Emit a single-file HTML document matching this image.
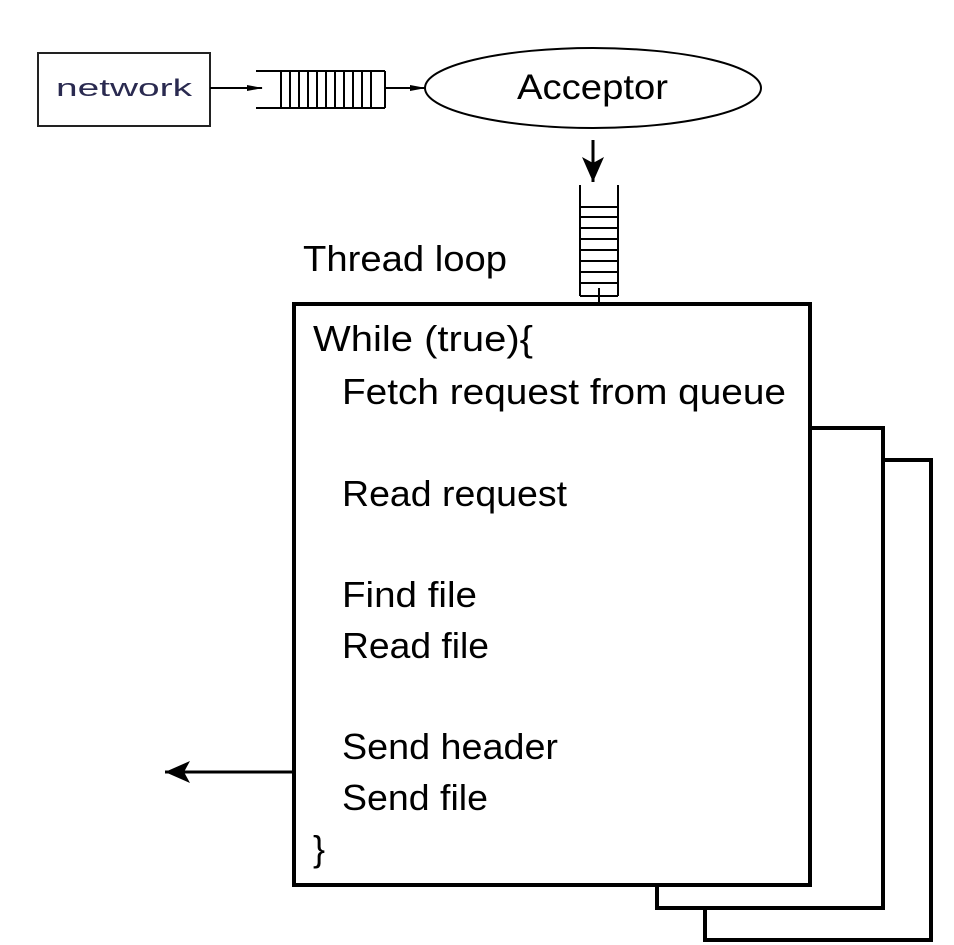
<!DOCTYPE html>
<html><head><meta charset="utf-8"><style>body{margin:0;background:#fff}svg{display:block}</style></head>
<body>
<svg width="954" height="945" viewBox="0 0 954 945" xmlns="http://www.w3.org/2000/svg" font-family="Liberation Sans, sans-serif">
<defs>
<marker id="a" markerWidth="16" markerHeight="8" refX="15" refY="4" orient="auto" markerUnits="userSpaceOnUse"><path d="M0,1 L16,4 L0,7 Z" fill="#000"/></marker>
<marker id="b" markerWidth="26" markerHeight="22" refX="25" refY="11" orient="auto" markerUnits="userSpaceOnUse"><path d="M0,0 L25,11 L0,22 L6,11 Z" fill="#000"/></marker>
</defs>
<rect x="38" y="53" width="172" height="73" fill="none" stroke="#222" stroke-width="2"/>
<text x="56" y="96" font-size="24" fill="#2a2a50" textLength="136" lengthAdjust="spacingAndGlyphs">network</text>
<line x1="210" y1="88" x2="262" y2="88" stroke="#000" stroke-width="2" marker-end="url(#a)"/>
<g stroke="#000" stroke-width="2" fill="none">
<line x1="256" y1="71" x2="385" y2="71"/><line x1="256" y1="108" x2="385" y2="108"/>
<line x1="281" y1="71" x2="281" y2="108"/><line x1="290" y1="71" x2="290" y2="108"/><line x1="299" y1="71" x2="299" y2="108"/><line x1="308" y1="71" x2="308" y2="108"/><line x1="317" y1="71" x2="317" y2="108"/><line x1="326" y1="71" x2="326" y2="108"/><line x1="335" y1="71" x2="335" y2="108"/><line x1="344" y1="71" x2="344" y2="108"/><line x1="353" y1="71" x2="353" y2="108"/><line x1="362" y1="71" x2="362" y2="108"/><line x1="371" y1="71" x2="371" y2="108"/><line x1="385" y1="71" x2="385" y2="108"/>
</g>
<line x1="385" y1="88" x2="425" y2="88" stroke="#000" stroke-width="2" marker-end="url(#a)"/>
<ellipse cx="593" cy="88" rx="168" ry="40" fill="none" stroke="#000" stroke-width="2"/>
<text x="517" y="99" font-size="35" textLength="151" lengthAdjust="spacingAndGlyphs">Acceptor</text>
<line x1="593" y1="140" x2="593" y2="182" stroke="#000" stroke-width="3" marker-end="url(#b)"/>
<g stroke="#000" stroke-width="2" fill="none">
<line x1="580" y1="185" x2="580" y2="296"/><line x1="618" y1="185" x2="618" y2="296"/>
<line x1="580" y1="296" x2="618" y2="296"/>
<line x1="580" y1="207" x2="618" y2="207"/><line x1="580" y1="217" x2="618" y2="217"/><line x1="580" y1="228" x2="618" y2="228"/><line x1="580" y1="239" x2="618" y2="239"/><line x1="580" y1="250" x2="618" y2="250"/><line x1="580" y1="261" x2="618" y2="261"/><line x1="580" y1="272" x2="618" y2="272"/><line x1="580" y1="283" x2="618" y2="283"/>
<line x1="599" y1="288" x2="599" y2="303"/>
</g>
<text x="303" y="271" font-size="36" textLength="204" lengthAdjust="spacingAndGlyphs">Thread loop</text>
<g fill="none" stroke="#000" stroke-width="4">
<path d="M884,460 L931,460 L931,940 L705,940 L705,908"/>
<path d="M810,428 L883,428 L883,908 L657,908 L657,886"/>
<rect x="294" y="304" width="516" height="581" fill="#fff"/>
</g>
<line x1="293" y1="772" x2="165" y2="772" stroke="#000" stroke-width="3" marker-end="url(#b)"/>
<g font-size="36">
<text x="313" y="351" textLength="220" lengthAdjust="spacingAndGlyphs">While (true){</text>
<text x="342" y="404" textLength="444" lengthAdjust="spacingAndGlyphs">Fetch request from queue</text>
<text x="342" y="506" textLength="225" lengthAdjust="spacingAndGlyphs">Read request</text>
<text x="342" y="607" textLength="135" lengthAdjust="spacingAndGlyphs">Find file</text>
<text x="342" y="658" textLength="147" lengthAdjust="spacingAndGlyphs">Read file</text>
<text x="342" y="759" textLength="216" lengthAdjust="spacingAndGlyphs">Send header</text>
<text x="342" y="810" textLength="146" lengthAdjust="spacingAndGlyphs">Send file</text>
<text x="313" y="861">}</text>
</g>
</svg>
</body></html>
